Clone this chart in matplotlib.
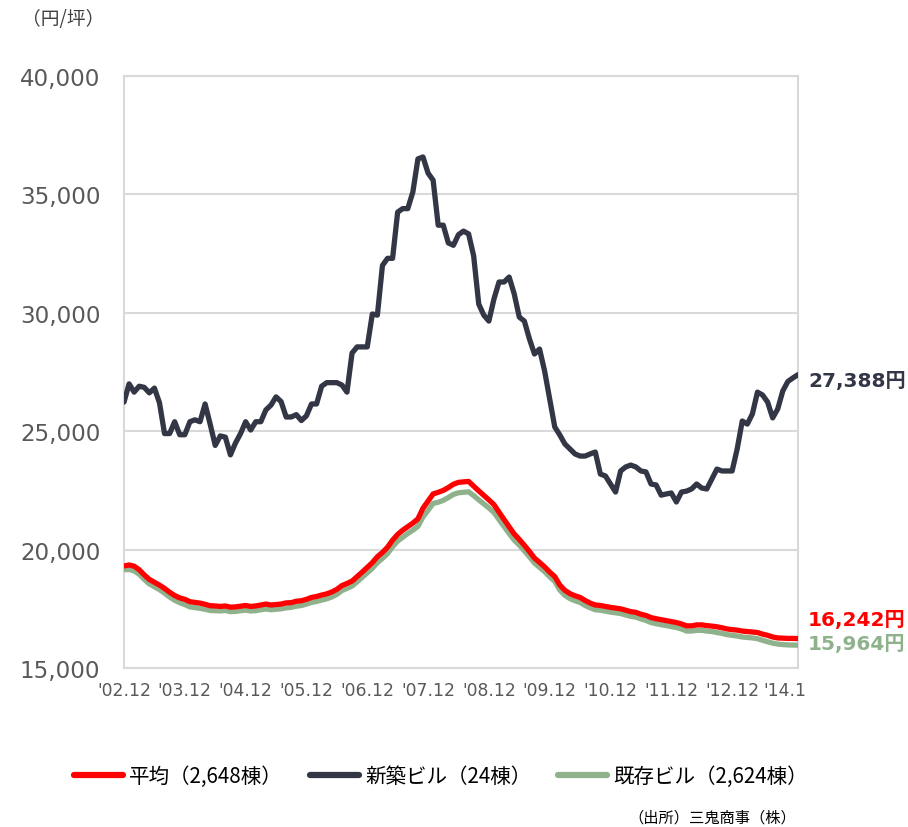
import matplotlib
matplotlib.use("Agg")
import matplotlib.pyplot as plt
from matplotlib.lines import Line2D
from matplotlib.transforms import ScaledTranslation
import numpy as np

plt.rcParams['font.family'] = ['DejaVu Sans', 'Noto Sans CJK JP']

# Monthly average asking rent, Tokyo business districts ('02.12 – '14.1), yen per tsubo
average = [
    19310, 19350, 19300, 19150, 18930, 18740, 18620, 18500, 18360, 18200,
    18060, 17960, 17900, 17800, 17770, 17740, 17690, 17630, 17620, 17600,
    17620, 17570, 17580, 17610, 17640, 17600, 17620, 17660, 17700, 17660,
    17680, 17700, 17750, 17760, 17820, 17840, 17900, 17980, 18020, 18080,
    18130, 18210, 18320, 18480, 18570, 18670, 18860, 19050, 19250, 19450,
    19700, 19880, 20100, 20400, 20640, 20820, 20970, 21120, 21300, 21750,
    22050, 22350, 22420, 22500, 22620, 22760, 22840, 22860, 22880, 22680,
    22480, 22290, 22100, 21900, 21580, 21270, 20960, 20660, 20430, 20180,
    19920, 19640, 19460, 19270, 19050, 18860, 18500, 18280, 18140, 18050,
    17980, 17850, 17740, 17660, 17640, 17600, 17560, 17530, 17500, 17440,
    17380, 17350, 17270, 17220, 17130, 17080, 17040, 17000, 16960, 16920,
    16860, 16780, 16780, 16820, 16820, 16790, 16770, 16740, 16700, 16650,
    16620, 16600, 16560, 16540, 16520, 16500, 16430, 16380, 16310, 16270,
    16260, 16250, 16250, 16242,
]

new_buildings = [
    26230, 27000, 26650, 26900, 26850, 26620, 26820, 26200, 24900, 24900,
    25400, 24850, 24850, 25400, 25480, 25400, 26150, 25300, 24400, 24800,
    24750, 24000, 24500, 24900, 25400, 25050, 25400, 25400, 25900, 26100,
    26450, 26250, 25600, 25600, 25700, 25450, 25650, 26150, 26150, 26900,
    27050, 27050, 27050, 26950, 26650, 28300, 28560, 28560, 28560, 29950,
    29900, 32000, 32300, 32300, 34250, 34400, 34400, 35100, 36500, 36580,
    35900, 35600, 33700, 33700, 32950, 32850, 33300, 33450, 33330, 32400,
    30370, 29900, 29650, 30580, 31300, 31300, 31510, 30800, 29820, 29650,
    28900, 28260, 28470, 27540, 26360, 25180, 24840, 24460, 24250, 24040,
    23950, 23950, 24040, 24120, 23190, 23110, 22770, 22430, 23320, 23490,
    23570, 23490, 23320, 23280, 22770, 22730, 22300, 22350, 22390, 22010,
    22430, 22470, 22560, 22770, 22600, 22560, 22980, 23400, 23320, 23320,
    23320, 24250, 25430, 25300, 25730, 26650, 26530, 26230, 25560, 25940,
    26700, 27100, 27250, 27388,
]

existing_buildings = [
    19150, 19160, 19100, 18960, 18740, 18550, 18430, 18310, 18160, 18000,
    17860, 17760, 17680, 17580, 17550, 17520, 17480, 17430, 17420, 17410,
    17430, 17380, 17390, 17420, 17440, 17410, 17420, 17460, 17490, 17460,
    17480, 17500, 17540, 17560, 17610, 17640, 17700, 17770, 17810, 17870,
    17920, 18000, 18110, 18270, 18360, 18460, 18640, 18830, 19020, 19210,
    19450, 19630, 19830, 20120, 20360, 20520, 20680, 20820, 20980, 21380,
    21660, 21950, 22000, 22080, 22200, 22330, 22400, 22420, 22440, 22280,
    22100, 21930, 21760, 21570, 21270, 20970, 20680, 20400, 20190, 19950,
    19700, 19430, 19250, 19070, 18850, 18660, 18290, 18070, 17930, 17840,
    17770, 17640, 17540, 17460, 17440, 17400, 17360, 17330, 17300, 17240,
    17180, 17150, 17070, 17010, 16920, 16870, 16830, 16790, 16750, 16710,
    16650, 16560, 16560, 16590, 16590, 16560, 16540, 16500, 16460, 16410,
    16380, 16350, 16310, 16290, 16270, 16240, 16170, 16110, 16050, 16010,
    15990, 15975, 15970, 15964,
]

tick_labels = ["'02.12", "'03.12", "'04.12", "'05.12", "'06.12", "'07.12",
               "'08.12", "'09.12", "'10.12", "'11.12", "'12.12", "'14.1"]
tick_months = [0, 12, 24, 36, 48, 60, 72, 84, 96, 108, 120, 133]

series_names = ["平均（2,648棟）", "新築ビル（24棟）", "既存ビル（2,624棟）"]

RED = "#FF0000"
NAVY = "#323645"
SAGE = "#8FB28C"
GRID = "#D9D9D9"
TEXT = "#404040"

fig = plt.figure(figsize=(9.08, 8.28), dpi=100)
ax = fig.add_axes([124 / 908, 1 - 669 / 828, 674 / 908, 592 / 828])

x = np.arange(len(average))
ax.plot(x, existing_buildings, color=SAGE, lw=3.8, solid_capstyle='round', zorder=3)
ax.plot(x, average, color=RED, lw=3.8, solid_capstyle='round', zorder=4)
ax.plot(x, new_buildings, color=NAVY, lw=3.8, solid_capstyle='round', zorder=5)

ax.set_xlim(0, len(average) - 1)
ax.set_ylim(15000, 40000)
ax.set_yticks(np.arange(15000, 40001, 5000))
ax.yaxis.set_major_formatter(matplotlib.ticker.FuncFormatter(lambda v, p: f"{int(v):,}"))
ax.grid(axis='y', color=GRID, lw=1.5, zorder=0)
for s in ax.spines.values():
    s.set_color(GRID)
    s.set_linewidth(1.5)

ax.set_xticks(tick_months)
ax.set_xticklabels(tick_labels)
ax.tick_params(axis='x', length=0, pad=9, labelsize=12.4, labelcolor="#595959")
ax.tick_params(axis='y', length=0, pad=17, labelsize=16.6, labelcolor="#595959")
last = ax.get_xticklabels()[-1]
last.set_transform(last.get_transform() + ScaledTranslation(-0.13, 0, fig.dpi_scale_trans))

# Unit caption
fig.text(22 / 908, 1 - 20 / 828, "（円/坪）", fontsize=13.5, color=TEXT,
         family=['Noto Sans CJK JP'], ha='left', va='center')

# Latest-value annotations at the right end
end_kw = dict(fontsize=14.5, fontweight='bold', ha='left', va='center',
              family=['DejaVu Sans', 'Noto Sans CJK JP'])
fig.text(808 / 908, 1 - 381 / 828, f"{new_buildings[-1]:,}円", color=NAVY, **end_kw)
fig.text(808 / 908, 1 - 621 / 828, f"{average[-1]:,}円", color=RED, **end_kw)
fig.text(808 / 908, 1 - 645 / 828, f"{existing_buildings[-1]:,}円", color=SAGE, **end_kw)

handles = [Line2D([], [], color=c, lw=4.5, solid_capstyle='round') for c in (RED, NAVY, SAGE)]
fig.legend(handles, series_names, loc='center', bbox_to_anchor=(441 / 908, 1 - 777 / 828),
           ncol=3, frameon=False, handlelength=2.4, handletextpad=0.3, columnspacing=1.3,
           prop={'family': 'Noto Sans CJK JP', 'size': 14.8})

fig.text(712 / 908, 1 - 818 / 828, "（出所）三鬼商事（株）", fontsize=11, color="#000000",
         family=['Noto Sans CJK JP'], ha='center', va='center')

fig.savefig("out.png", dpi=100)
